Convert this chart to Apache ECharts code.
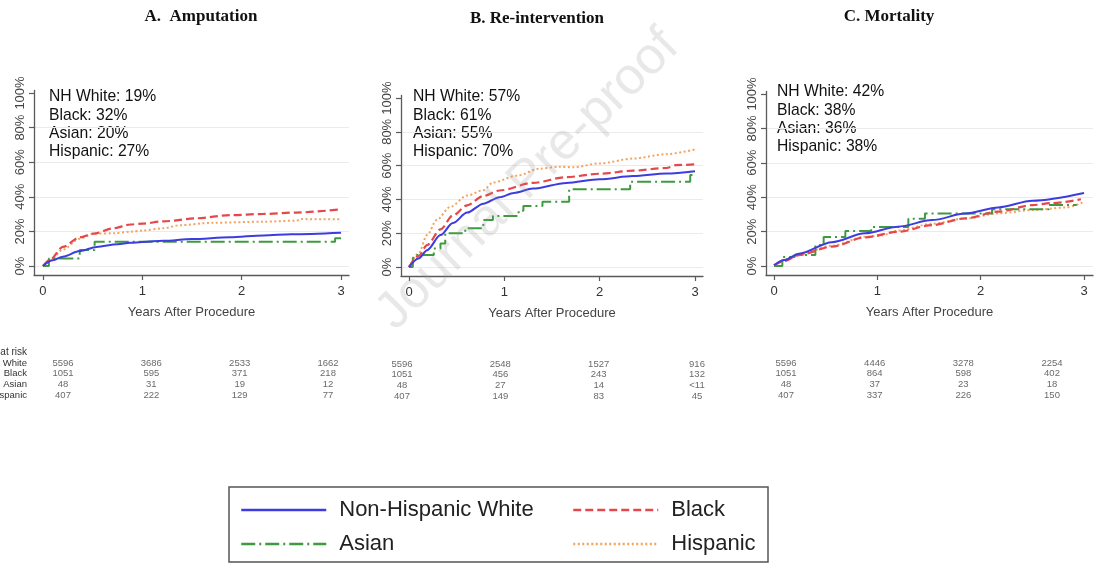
<!DOCTYPE html>
<html>
<head>
<meta charset="utf-8">
<script src="https://cdn.jsdelivr.net/npm/echarts@6/dist/echarts.min.js"></script>
<style>html,body{margin:0;padding:0;background:#fff;}#c{width:1097px;height:564px;}</style>
</head>
<body>
<div id="c"></div>
<script>
// ---------- DATA ----------
const groups = ['Non-Hispanic White', 'Black', 'Asian', 'Hispanic'];
const riskRowLabels = ['NH White', 'Black', 'Asian', 'Hispanic'];
const panelTitles = ['A.  Amputation', 'B. Re-intervention', 'C. Mortality'];
const xTicks = [0, 1, 2, 3];
const yTicks = [0, 20, 40, 60, 80, 100];
const xAxisName = 'Years After Procedure';

const notesA = ['NH White: 19%', 'Black: 32%', 'Asian: 20%', 'Hispanic: 27%'];
const notesB = ['NH White: 57%', 'Black: 61%', 'Asian: 55%', 'Hispanic: 70%'];
const notesC = ['NH White: 42%', 'Black: 38%', 'Asian: 36%', 'Hispanic: 38%'];

// Panel A: Amputation (cumulative %, by years)
const ampWhite = [[0,0],[0.1,3.3],[0.2,5.4],[0.37,8.6],[0.54,11],[0.75,12.6],[0.88,13.4],[1.0,13.9],[1.21,14.6],[1.5,15.6],[1.88,16.6],[2.22,17.7],[2.5,18.3],[3,19.2]];
const ampBlack = [[0,0],[0.07,3.5],[0.2,11],[0.37,16.5],[0.51,18.7],[0.71,21.8],[0.88,24],[1.0,24.5],[1.21,25.8],[1.55,27.6],[1.88,29.4],[2.22,30.1],[2.55,30.9],[3,32.8]];
const ampAsian = [[0,0],[0.06,4.4],[0.37,9.2],[0.52,14],[2.94,16],[3,16]];
const ampHispanic = [[0,0],[0.07,3],[0.2,9.5],[0.37,15.8],[0.51,18.7],[0.71,18.9],[0.88,19.8],[1.0,20.5],[1.21,21.8],[1.38,23.6],[1.71,25],[2.22,25.6],[2.55,26.2],[2.6,27.1],[3,27]];

// Panel B: Re-intervention
const reiWhite = [[0,0],[0.1,5],[0.19,10],[0.33,18.9],[0.46,26],[0.61,32.2],[0.78,37.5],[0.95,41.3],[1.1,43.8],[1.3,46.4],[1.65,49.8],[2.0,52],[2.35,53.8],[2.7,55.3],[3,56.7]];
const reiBlack = [[0,0],[0.1,6.5],[0.19,13],[0.33,22.3],[0.46,30.5],[0.61,36.5],[0.78,42],[0.95,45.3],[1.3,49.8],[1.65,53.2],[2.0,55.2],[2.35,57],[2.7,58.6],[2.8,60.3],[3,60.8]];
const reiAsian = [[0,0],[0.04,5],[0.06,7.1],[0.26,11],[0.33,14],[0.38,20],[0.59,22.9],[0.78,27.8],[0.88,30.2],[1.15,33.3],[1.2,36.1],[1.4,38.6],[1.68,46],[2.32,50.5],[2.95,54.4],[3,54.4]];
const reiHispanic = [[0,0],[0.1,8],[0.19,18.9],[0.29,27.8],[0.43,35.5],[0.61,42.3],[0.78,45.5],[0.88,50],[1.13,54],[1.37,58.2],[1.58,59.4],[1.72,59],[2.0,61.3],[2.35,64.2],[2.7,66.8],[3,69.6]];

// Panel C: Mortality
const morWhite = [[0,0.5],[0.1,3.5],[0.24,7.2],[0.56,13.9],[0.88,19],[1.2,22.9],[1.53,26.7],[1.85,30.5],[2.17,34.1],[2.5,38],[3,42.5]];
const morBlack = [[0,0.3],[0.1,3],[0.24,6.4],[0.56,11.3],[0.88,16.7],[1.2,19.9],[1.53,23.8],[1.85,27.7],[2.17,31.6],[2.5,35.4],[2.69,36.6],[2.97,38.8]];
const morAsian = [[0,0],[0.08,5.2],[0.2,6.4],[0.4,12.2],[0.48,16.9],[0.69,20.3],[0.94,22.7],[1.3,27.5],[1.46,30.5],[2.11,33],[2.66,35.5],[2.93,35.5]];
const morHispanic = [[0,0.3],[0.1,3.5],[0.24,6.6],[0.56,11.8],[0.88,17],[1.04,17.8],[1.2,20.6],[1.53,24.6],[1.85,27.7],[2.17,30.6],[2.5,32.6],[2.82,34],[3.0,37.3]];

// Number at risk (rows: NH White, Black, Asian, Hispanic; columns: years 0..3)
const riskA = [[5596,3686,2533,1662],[1051,595,371,218],[48,31,19,12],[407,222,129,77]];
const riskB = [[5596,2548,1527,916],[1051,456,243,132],[48,27,14,'<11'],[407,149,83,45]];
const riskC = [[5596,4446,3278,2254],[1051,864,598,402],[48,37,23,18],[407,337,226,150]];

// ---------- STYLES ----------
const FONT = '"Liberation Sans", Arial, sans-serif';
const styles = {
  'Non-Hispanic White': {color:'#3c3ce0', type:'solid', width:2},
  'Black': {color:'#e5484a', type:[8,4], width:2.2},
  'Asian': {color:'#3f9a3f', type:[14,4,2,4], width:2},
  'Hispanic': {color:'#f2a35e', type:[2,2.5], width:2}
};

const panelData = [
  [ampWhite, ampBlack, ampAsian, ampHispanic],
  [reiWhite, reiBlack, reiAsian, reiHispanic],
  [morWhite, morBlack, morAsian, morHispanic]
];
const panelNotes = [notesA, notesB, notesC];
const panelRisk = [riskA, riskB, riskC];

const plotGrids = [
  {left:34, top:90.4, width:315, height:184.6},
  {left:401, top:95.5, width:302, height:180.5},
  {left:766, top:91.4, width:327, height:183.6}
];
const xRanges = [[-0.09,3.08],[-0.084,3.084],[-0.078,3.087]];
const yRanges = [[-5.2,101.5],[-5.3,101.5],[-5.2,101.5]];
const riskGrids = [
  {left:63, top:363, width:265, height:32},
  {left:402, top:364, width:295, height:32},
  {left:786, top:363, width:266, height:32}
];
const notePos = [[49,98],[413,98],[777,93]];
const titlePos = [[201,17],[537,19],[889,17]];
const legendPos = {'Non-Hispanic White':[240,498], 'Asian':[240,532], 'Black':[572,498], 'Hispanic':[572,532]};

const grid = [], xAxis = [], yAxis = [], series = [], graphic = [];
const axisColor = '#5a5a5a';
const gridCol = '#ebebeb';

plotGrids.forEach((g, i) => {
  grid.push(Object.assign({containLabel:false}, g));
  xAxis.push({
    type:'value', gridIndex:i, min:xRanges[i][0], max:xRanges[i][1],
    axisLine:{show:true, onZero:false, lineStyle:{color:axisColor, width:1.3}},
    axisTick:{show:true, length:5, customValues:xTicks, lineStyle:{color:axisColor, width:1.2}},
    axisLabel:{show:true, customValues:xTicks, fontSize:13, color:'#333', fontFamily:FONT, margin:10, formatter:v=>String(v)},
    splitLine:{show:false},
    name:xAxisName, nameLocation:'middle', nameGap:31,
    nameTextStyle:{fontSize:13, color:'#444', fontFamily:FONT}
  });
  yAxis.push({
    type:'value', gridIndex:i, min:yRanges[i][0], max:yRanges[i][1],
    axisLine:{show:true, onZero:false, lineStyle:{color:axisColor, width:1.3}},
    axisTick:{show:true, length:5, customValues:yTicks, lineStyle:{color:axisColor, width:1.2}},
    axisLabel:{show:true, customValues:yTicks, rotate:90, fontSize:13, color:'#444', fontFamily:FONT, margin:7, formatter:v=>v+'%'},
    splitLine:{show:true, lineStyle:{color:[gridCol,gridCol,gridCol,gridCol,gridCol,'rgba(0,0,0,0)'], width:1}}
  });
  groups.forEach((name, k) => {
    const st = styles[name];
    series.push({
      type:'line', name:name, xAxisIndex:i, yAxisIndex:i,
      data:panelData[i][k], showSymbol:false, symbol:'none',
      step: name === 'Asian' ? 'end' : false,
      smooth: name === 'Asian' ? false : 0.3, smoothMonotone:'x',
      lineStyle:{color:st.color, type:st.type, width:st.width},
      itemStyle:{color:st.color},
      z: 3 + (3-k), silent:true, animation:false
    });
  });
  panelNotes[i].forEach((t, r) => {
    graphic.push({type:'text', left:notePos[i][0], top:notePos[i][1] - 9 + r*18.2, silent:true,
      style:{text:t, font:'15.7px ' + FONT, fill:'#111'}});
  });
  graphic.push({type:'text', x:titlePos[i][0], y:titlePos[i][1], silent:true,
    style:{text:panelTitles[i], font:'bold 17px "Liberation Serif", "Times New Roman", serif', fill:'#111', align:'center', verticalAlign:'middle'}});
});

// Risk tables via hidden grids
riskGrids.forEach((g, j) => {
  const gi = grid.length;
  grid.push(Object.assign({containLabel:false}, g));
  xAxis.push({type:'value', gridIndex:gi, min:0, max:3, show:false});
  yAxis.push({type:'value', gridIndex:gi, min:0, max:3, inverse:true, show:false});
  const pts = [];
  panelRisk[j].forEach((row, r) => row.forEach((v, c) => pts.push([c, r, v])));
  series.push({
    type:'scatter', name:'risk'+j, xAxisIndex:gi, yAxisIndex:gi, data:pts,
    symbolSize:1, itemStyle:{color:'rgba(0,0,0,0)'}, silent:true, animation:false,
    label:{show:true, position:'inside', formatter:p=>String(p.data[2]), fontSize:9.5, color:'#444', fontFamily:FONT}
  });
});

graphic.push({type:'text', x:27, y:352, silent:true,
  style:{text:'Number at risk', font:'10px ' + FONT, fill:'#333', align:'right', verticalAlign:'middle'}});
riskRowLabels.forEach((t, r) => {
  graphic.push({type:'text', x:27, y:363 + r*10.7, silent:true,
    style:{text:t, font:'9.5px ' + FONT, fill:'#333', align:'right', verticalAlign:'middle'}});
});

// legend box
graphic.push({type:'rect', shape:{x:229, y:487, width:539, height:75}, silent:true,
  style:{fill:'none', stroke:'#555', lineWidth:1.5}});

// watermark
graphic.push({type:'text', x:528, y:180, rotation:0.78, silent:true, z:100,
  style:{text:'Journal Pre-proof', font:'52px ' + FONT, fill:'rgba(150,150,150,0.22)', align:'center', verticalAlign:'middle'}});

const legend = groups.map(name => ({
  data:[name], left:legendPos[name][0], top:legendPos[name][1], padding:0,
  orient:'horizontal', itemWidth:85, itemHeight:14,
  textStyle:{fontSize:22, color:'#222', fontFamily:FONT, lineHeight:24, padding:[0,0,0,8]},
  lineStyle:{width:2.5},
  itemStyle:{color:'rgba(0,0,0,0)', borderWidth:0, opacity:0},
  selectedMode:false
}));

const option = {
  animation:false,
  backgroundColor:'#fff',
  grid, xAxis, yAxis, series, legend, graphic
};

const chart = echarts.init(document.getElementById('c'), null, {renderer:'canvas'});
chart.setOption(option);
</script>
</body>
</html>
